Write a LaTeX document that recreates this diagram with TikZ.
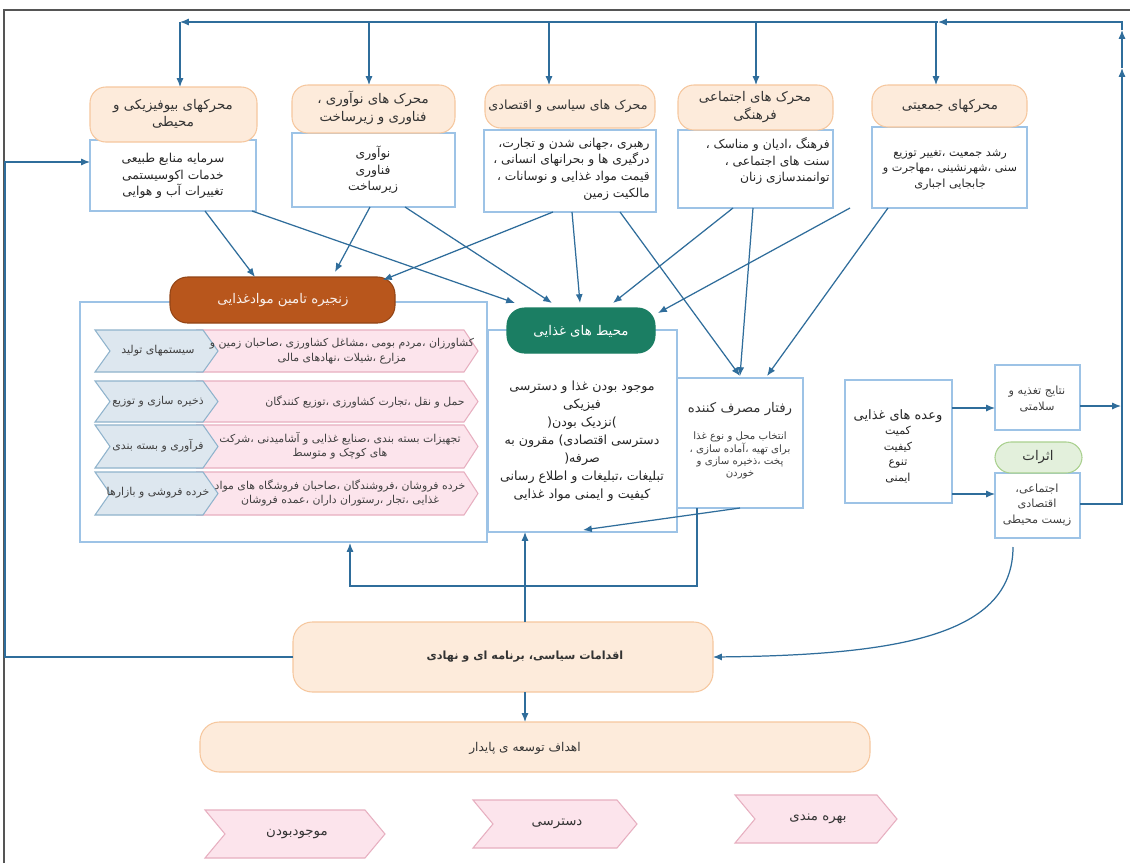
\documentclass[tikz,border=0pt]{standalone}
\usepackage{fontspec}
\usetikzlibrary{arrows.meta}
\newfontfamily\arabicfont[Script=Arabic]{DejaVu Sans}
\newfontfamily\latinpar{DejaVu Sans}
\TeXXeTstate=1
\newcommand\fa[1]{\beginR #1\endR}
\definecolor{arr}{HTML}{2F6D9B}
\definecolor{hdrfill}{HTML}{FDEBDB}
\definecolor{hdrline}{HTML}{F6C79E}
\definecolor{boxline}{HTML}{9DC3E6}
\definecolor{brown}{HTML}{B8561C}
\definecolor{teal}{HTML}{1B7E63}
\definecolor{impfill}{HTML}{E3F0DC}
\definecolor{impline}{HTML}{A9D08E}
\definecolor{bluefill}{HTML}{DDE7EF}
\definecolor{blueline}{HTML}{8FB3CC}
\definecolor{pinkfill}{HTML}{FCE4EC}
\definecolor{pinkline}{HTML}{E7AFC0}
\definecolor{frame}{HTML}{555555}
\newcommand\pbox[6]{\node[#1, minimum width={(#5-#3)*0.02cm}, minimum height={(#6-#4)*0.02cm}, inner sep=0pt, outer sep=0pt] (#2) at ({(#3+#5)/2},{(#4+#6)/2}) {};}
\newcommand\chev[7]{\filldraw[fill=#6, draw=#7, line width=0.6pt] (#1,#2) -- ({#3-#5},#2) -- (#3,{(#2+#4)/2}) -- ({#3-#5},#4) -- (#1,#4) -- ({#1+#5},{(#2+#4)/2}) -- cycle;}
\tikzset{
  hdr/.style={draw=hdrline, fill=hdrfill, rounded corners=9pt, line width=0.6pt},
  bodyb/.style={draw=boxline, fill=white, line width=0.8pt},
  txt/.style={font=\arabicfont\fontsize{7}{9.5}\selectfont, align=center, inner sep=0pt, text=black!85},
  htxt/.style={font=\arabicfont\fontsize{7.6}{10}\selectfont, align=center, inner sep=0pt, text=black!80},
  rtxt/.style={font=\arabicfont\fontsize{6.2}{8.2}\selectfont, align=center, inner sep=0pt, text=black!75},
  flow/.style={draw=arr, line width=0.7pt, -{Latex[length=5pt,width=4pt]}},
  plain/.style={draw=arr, line width=0.7pt},
}
\begin{document}
\begin{tikzpicture}[x=0.02cm,y=-0.02cm]
\useasboundingbox (0,0) rectangle (1130,863);
\fill[white] (0,0) rectangle (1130,863);
\draw[frame, line width=1pt] (4,863) -- (4,10) -- (1130,10);

% ---------- drivers ----------
\pbox{bodyb}{bioB}{90}{140}{256}{211}
\pbox{hdr}{bioH}{90}{87}{257}{142}
\pbox{bodyb}{innB}{292}{133}{455}{207}
\pbox{hdr}{innH}{292}{85}{455}{133}
\pbox{bodyb}{polB}{484}{130}{656}{212}
\pbox{hdr}{polH}{485}{85}{655}{128}
\pbox{bodyb}{socB}{678}{130}{833}{208}
\pbox{hdr}{socH}{678}{85}{833}{130}
\pbox{bodyb}{demB}{872}{127}{1027}{208}
\pbox{hdr}{demH}{872}{85}{1027}{127}

\node[htxt] (bioHt) at (173,114) {\fa{محرکهای بیوفیزیکی و}\\\fa{محیطی}};
\node[txt] (bioBt) at (173,176) {\fa{سرمایه منابع طبیعی}\\\fa{خدمات اکوسیستمی}\\\fa{تغییرات آب و هوایی}};
\node[htxt] (innHt) at (373,108) {\fa{محرک های نوآوری ،}\\\fa{فناوری و زیرساخت}};
\node[txt] (innBt) at (373,170) {\fa{نوآوری}\\\fa{فناوری}\\\fa{زیرساخت}};
\node[htxt, font=\arabicfont\fontsize{7.2}{10}\selectfont] (polHt) at (568,106) {\fa{محرک های سیاسی و اقتصادی}};
\node[txt, align=right, anchor=east] (polBt) at (650,169) {\fa{رهبری ،جهانی شدن و تجارت،}\\\fa{درگیری ها و بحرانهای انسانی ،}\\\fa{قیمت مواد غذایی و نوسانات ،}\\\fa{مالکیت زمین}};
\node[htxt] (socHt) at (755,107) {\fa{محرک های اجتماعی}\\\fa{فرهنگی}};
\node[txt, align=right, anchor=north east] (socBt) at (830,137) {\fa{فرهنگ ،ادیان و مناسک ،}\\\fa{سنت  های اجتماعی ،}\\\fa{توانمندسازی زنان}};
\node[htxt] (demHt) at (950,106) {\fa{محرکهای جمعیتی}};
\node[txt, font=\arabicfont\fontsize{6.4}{8.6}\selectfont] (demBt) at (950,170) {\fa{رشد جمعیت ،تغییر توزیع}\\\fa{سنی ،شهرنشینی ،مهاجرت و}\\\fa{جابجایی اجباری}};

% ---------- supply chain ----------
\pbox{bodyb}{chainB}{80}{302}{487}{542}
\pbox{hdr, draw=brown!80!black, fill=brown, rounded corners=10pt}{chainH}{170}{277}{395}{323}
\node[htxt, text=white!92!brown] (chainHt) at (283,300) {\fa{زنجیره تامین موادغذایی}};

\chev{197}{330}{478}{372}{14}{pinkfill}{pinkline}
\chev{197}{381}{478}{422}{14}{pinkfill}{pinkline}
\chev{197}{425}{478}{468}{14}{pinkfill}{pinkline}
\chev{197}{472}{478}{515}{14}{pinkfill}{pinkline}
\chev{95}{330}{218}{372}{15}{bluefill}{blueline}
\chev{95}{381}{218}{422}{15}{bluefill}{blueline}
\chev{95}{425}{218}{468}{15}{bluefill}{blueline}
\chev{95}{472}{218}{515}{15}{bluefill}{blueline}
\node[rtxt] (r1) at (342,351) {\fa{کشاورزان ،مردم بومی ،مشاغل کشاورزی ،صاحبان زمین و}\\\fa{مزارع ،شیلات ،نهادهای مالی}};
\node[rtxt] (r2) at (365,402) {\fa{حمل و نقل ،تجارت کشاورزی ،توزیع کنندگان}};
\node[rtxt] (r3) at (340,446) {\fa{تجهیزات بسته بندی ،صنایع غذایی و آشامیدنی ،شرکت}\\\fa{های کوچک و متوسط}};
\node[rtxt] (r4) at (340,493) {\fa{خرده فروشان ،فروشندگان ،صاحبان فروشگاه های مواد}\\\fa{غذایی ،تجار ،رستوران داران ،عمده فروشان}};
\node[rtxt] (b1) at (158,351) {\fa{سیستمهای تولید}};
\node[rtxt] (b2) at (158,402) {\fa{ذخیره سازی و توزیع}};
\node[rtxt] (b3) at (158,446) {\fa{فرآوری و بسته بندی}};
\node[rtxt] (b4) at (158,493) {\fa{خرده فروشی و بازارها}};

% ---------- food environments ----------
\pbox{bodyb}{foodB}{488}{330}{677}{532}
\pbox{hdr, draw=teal, fill=teal, rounded corners=10pt}{foodH}{507}{308}{655}{353}
\node[htxt, text=white] (foodHt) at (581,331) {\fa{محیط های غذایی}};
\node[txt, font=\arabicfont\fontsize{7.2}{10.2}\selectfont] (foodBt) at (582,441) {\fa{موجود بودن غذا و دسترسی}\\\fa{فیزیکی}\\{\latinpar )}\fa{نزدیک بودن}{\latinpar (}\\\fa{دسترسی اقتصادی) مقرون به}\\\fa{صرفه(}\\\fa{تبلیغات ،تبلیغات و اطلاع رسانی}\\\fa{کیفیت و ایمنی مواد غذایی}};

% ---------- consumer ----------
\pbox{bodyb}{consB}{677}{378}{803}{508}
\node[htxt] (consT) at (740,409) {\fa{رفتار مصرف کننده}};
\node[rtxt, font=\arabicfont\fontsize{5.8}{6.6}\selectfont] (consBt) at (740,455) {\fa{انتخاب محل و نوع غذا}\\\fa{برای تهیه ،آماده سازی ،}\\\fa{پخت ،ذخیره سازی و}\\\fa{خوردن}};

% ---------- diets / outcomes ----------
\pbox{bodyb}{dietB}{845}{380}{952}{503}
\node[txt, font=\arabicfont\fontsize{6.3}{8.8}\selectfont] (dietT) at (898,446) {{\fontsize{7.4}{8.8}\selectfont\fa{وعده های غذایی}}\\\fa{کمیت}\\\fa{کیفیت}\\\fa{تنوع}\\\fa{ایمنی}};
\pbox{bodyb}{nutB}{995}{365}{1080}{430}
\node[rtxt, font=\arabicfont\fontsize{6.4}{8.6}\selectfont] (nutT) at (1037,399) {\fa{نتایج تغذیه و}\\\fa{سلامتی}};
\pbox{bodyb}{impB}{995}{473}{1080}{538}
\pbox{hdr, draw=impline, fill=impfill}{impH}{995}{442}{1082}{473}
\node[htxt] (impHt) at (1038,457) {\fa{اثرات}};
\node[rtxt, font=\arabicfont\fontsize{6.4}{8.6}\selectfont] (impBt) at (1037,505) {\fa{اجتماعی،}\\\fa{اقتصادی}\\\fa{زیست محیطی}};

% ---------- policy / SDG ----------
\pbox{hdr, rounded corners=11pt}{pol}{293}{622}{713}{692}
\node[htxt, font=\arabicfont\bfseries\fontsize{6.4}{10}\selectfont] (polT) at (525,657) {\fa{اقدامات سیاسی، برنامه ای و نهادی}};
\pbox{hdr, rounded corners=11pt}{sdg}{200}{722}{870}{772}
\node[htxt, font=\arabicfont\fontsize{6.9}{10}\selectfont] (sdgT) at (525,748) {\fa{اهداف توسعه ی پایدار}};

% ---------- bottom chevrons ----------
\chev{205}{810}{385}{858}{20}{pinkfill}{pinkline}
\chev{473}{800}{637}{848}{20}{pinkfill}{pinkline}
\chev{735}{795}{897}{843}{20}{pinkfill}{pinkline}
\node[htxt] (c1) at (297,834) {\fa{موجودبودن}};
\node[htxt] (c2) at (557,824) {\fa{دسترسی}};
\node[htxt] (c3) at (818,819) {\fa{بهره مندی}};

% ---------- connectors ----------
% feedback loop top
\draw[flow] (impB.east |- 0,504) -- (1122,504) -- (1122,68);
\draw[flow] (1122,68) -- (1122,30);
\draw[flow] (1122,30) -- (1122,22) -- (938,22);
\draw[flow] (938,22) -- (180,22);
\draw[flow] (180,22) -- (180,87);
\draw[flow] (369,22) -- (369,85);
\draw[flow] (549,22) -- (549,85);
\draw[flow] (756,22) -- (756,85);
\draw[flow] (936,22) -- (936,85);
\draw[flow] (1080,406) -- (1121,406);
% diets
\draw[flow] (952,408) -- (995,408);
\draw[flow] (952,494) -- (995,494);
% impacts to policy
\draw[flow] (1013,547) .. controls (1013,635) and (900,655) .. (pol.east);
% policy loops
\draw[flow] (pol.west) -- (5,657) -- (5,162) -- (bioB.west |- 0,162);
\draw[flow] (525,622) -- (525,532);
\draw[flow] (525,692) -- (525,722);
% consumer feedback
\draw[flow] (697,508) -- (697,586) -- (350,586) -- (350,543);
\draw[flow] (consB.south) -- (583,530);
% drivers to chain / food env / consumer
\draw[flow] (205,211) -- (255,277);
\draw[flow] (252,211) -- (515,303);
\draw[flow] (370,207) -- (335,272);
\draw[flow] (405,207) -- (552,303);
\draw[flow] (553,212) -- (383,280);
\draw[flow] (572,212) -- (580,303);
\draw[flow] (620,212) -- (740,376);
\draw[flow] (733,208) -- (613,303);
\draw[flow] (753,208) -- (740,376);
\draw[flow] (850,208) -- (658,313);
\draw[flow] (888,208) -- (767,376);
\end{tikzpicture}
\end{document}
